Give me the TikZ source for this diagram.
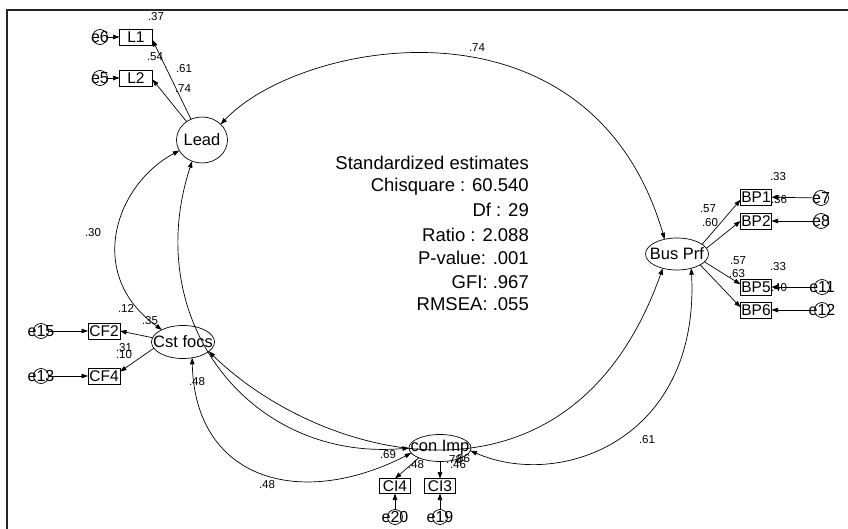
\documentclass[tikz,border=0pt]{standalone}
\usepackage{fontspec}
\setmainfont{Liberation Sans}
\usetikzlibrary{arrows.meta,shapes.geometric}
\newcommand\zw[1]{\makebox[0pt]{#1}}
\begin{document}
\begin{tikzpicture}[x=1pt,y=-1pt,
  >={Triangle[length=6.5pt,width=4.5pt]},
  conn/.style={line width=0.7pt},
  latent/.style={draw,ellipse,inner sep=0pt,outer sep=0pt,line width=0.7pt,font=\fontsize{16.5}{18}\selectfont},
  obs/.style={draw,rectangle,inner sep=0pt,outer sep=0pt,minimum width=32pt,minimum height=16pt,line width=0.7pt,font=\fontsize{15.5}{16}\selectfont},
  err/.style={draw,circle,minimum size=15pt,inner sep=0pt,outer sep=0pt,line width=0.7pt},
  errlab/.style={font=\fontsize{16}{16}\selectfont,inner sep=0pt},
  num/.style={font=\fontsize{11.5}{12}\selectfont,inner sep=0pt},
  stat/.style={font=\fontsize{18.5}{20}\selectfont,anchor=east,inner sep=0pt}
]
\useasboundingbox (0,0) rectangle (848,529);
\draw[line width=1.3pt,black!85] (7,529) -- (7,10) -- (848,10);

% latent variables
\node[latent,minimum width=51pt,minimum height=46pt] (lead) at (202,140) {\zw{Lead}};
\node[latent,minimum width=63pt,minimum height=32pt] (busprf) at (677,254) {\zw{Bus Prf}};
\node[latent,minimum width=63pt,minimum height=33pt] (cstfocs) at (183,342) {\zw{Cst focs}};
\node[latent,minimum width=62pt,minimum height=27pt] (conimp) at (440,448) {\zw{con Imp}};

% observed
\node[obs,minimum width=33pt] (L1) at (136,37) {L1};
\node[obs,minimum width=33pt] (L2) at (136,78) {L2};
\node[obs,minimum width=31pt] (BP1) at (756,197) {BP1};
\node[obs,minimum width=31pt] (BP2) at (756,221) {BP2};
\node[obs,minimum width=31pt] (BP5) at (756,287) {BP5};
\node[obs,minimum width=31pt] (BP6) at (756,310) {BP6};
\node[obs] (CF2) at (104,331) {CF2};
\node[obs] (CF4) at (104,376) {CF4};
\node[obs,minimum width=31pt,minimum height=15pt] (CI4) at (395,486) {CI4};
\node[obs,minimum width=31pt,minimum height=15pt] (CI3) at (440,486) {CI3};

% errors
\node[err] (e6) at (100,37) {};   \node[errlab] at (e6) {e6};
\node[err] (e5) at (100,78) {};   \node[errlab] at (e5) {e5};
\node[err] (e7) at (821,198) {};  \node[errlab] at (e7) {e7};
\node[err] (e8) at (821,221) {};  \node[errlab] at (e8) {e8};
\node[err] (e11) at (822,287) {}; \node[errlab] at (e11) {e11};
\node[err] (e12) at (822,310) {}; \node[errlab] at (e12) {e12};
\node[err] (e15) at (41,331) {};  \node[errlab] at (e15) {e15};
\node[err] (e13) at (41,376) {};  \node[errlab] at (e13) {e13};
\node[err] (e20) at (395,517) {}; \node[errlab] at (e20) {e20};
\node[err] (e19) at (440,517) {}; \node[errlab] at (e19) {e19};

% error arrows
\draw[->,conn] (e6) -- (L1);
\draw[->,conn] (e5) -- (L2);
\draw[->,conn] (e7) -- (BP1);
\draw[->,conn] (e8) -- (BP2);
\draw[->,conn] (e11) -- (BP5);
\draw[->,conn] (e12) -- (BP6);
\draw[->,conn] (e15) -- (CF2);
\draw[->,conn] (e13) -- (CF4);
\draw[->,conn] (e20) -- (CI4);
\draw[->,conn] (e19) -- (CI3);

% loadings
\draw[->,conn] (lead.118) -- (L1.-10);
\draw[->,conn] (lead.130) -- (L2.-5);
\draw[->,conn] (busprf.21) -- (BP1.190);
\draw[->,conn] (busprf.11) -- (BP2.west);
\draw[->,conn] (busprf.-16) -- (BP5.170);
\draw[->,conn] (busprf.-25) -- (BP6.170);
\draw[->,conn] (cstfocs.172) -- (CF2.east);
\draw[->,conn] (cstfocs.192) -- (CF4.15);
\draw[->,conn] (conimp.205) -- (CI4.north);
\draw[->,conn] (conimp.south) -- (CI3.north);

% covariances
\draw[<->,conn] (lead.40) .. controls (300,40) and (590,-15) .. (busprf.130);
\draw[<->,conn] (lead.205) .. controls (115,185) and (85,275) .. (cstfocs.150);
\draw[<->,conn] (lead.245) .. controls (140,320) and (250,462) .. (conimp.180);
\draw[<->,conn] (cstfocs.-20) .. controls (320,460) and (570,530) .. (busprf.225);
\draw[<->,conn] (conimp.-5) .. controls (560,490) and (700,440) .. (busprf.-45);
\draw[<->,conn] (cstfocs.300) .. controls (195,480) and (300,510) .. (conimp.190);

% numbers
\node[num] at (156,17) {.37};
\node[num] at (155,57) {.54};
\node[num] at (184,69) {.61};
\node[num] at (183,89) {.74};
\node[num] at (477,48) {.74};
\node[num] at (93,233) {.30};
\node[num] at (778,177) {.33};
\node[num] at (779,200) {.36};
\node[num] at (708,209) {.57};
\node[num] at (710,223) {.60};
\node[num] at (738,261) {.57};
\node[num] at (737,274) {.63};
\node[num] at (778,267) {.33};
\node[num] at (779,288) {.40};
\node[num] at (126,308) {.12};
\node[num] at (150,321) {.35};
\node[num] at (124,348) {.31};
\node[num] at (124,355) {.10};
\node[num] at (197,382) {.48};
\node[num] at (267,485) {.48};
\node[num] at (388,455) {.69};
\node[num] at (416,465) {.48};
\node[num] at (454,460) {.78};
\node[num] at (462,459) {.86};
\node[num] at (458,465) {.46};
\node[num] at (647,440) {.61};

% statistics
\node[stat] (s1) at (529,163) {Standardized estimates};
\node[stat] (s2) at (529,187) {Chisquare : 60.540};
\node[stat] (s3) at (529,210) {Df : 29};
\node[stat] (s4) at (529,235) {Ratio : 2.088};
\node[stat] (s5) at (529,258) {P-value: .001};
\node[stat] (s6) at (529,282) {GFI: .967};
\node[stat] (s7) at (529,304) {RMSEA: .055};
\end{tikzpicture}
\end{document}
